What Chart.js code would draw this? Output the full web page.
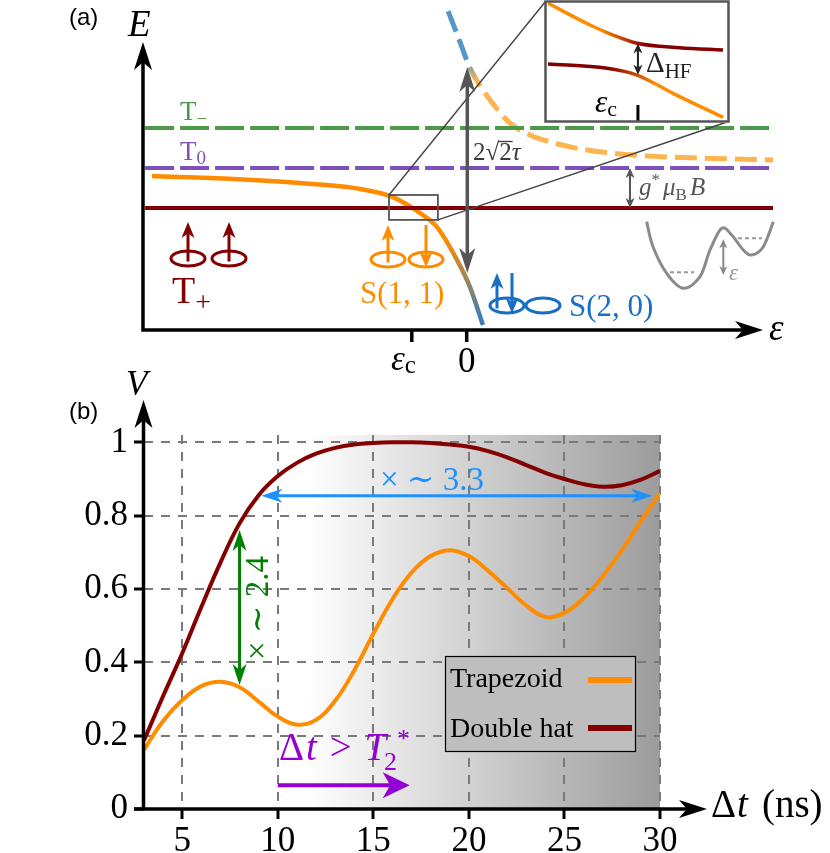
<!DOCTYPE html>
<html>
<head>
<meta charset="utf-8">
<title>Energy levels and visibility</title>
<script src="https://cdn.jsdelivr.net/npm/chart.js@4.4.1/dist/chart.umd.min.js"></script>
<style>
  body { margin: 0; background: #fff; }
  #fig { position: relative; width: 830px; height: 853px; }
  #fig canvas { position: absolute; }
</style>
</head>
<body>
<div id="fig">
  <canvas id="levels" width="830" height="380" style="left:0;top:0"></canvas>
  <canvas id="inset" width="186" height="124" style="left:544px;top:0"></canvas>
  <canvas id="visibility" width="830" height="493" style="left:0;top:360px"></canvas>
</div>
<script>
// ---------- panel (a): energy levels vs detuning (arbitrary units) ----------
var levelEps = [-10.72, 10.21];
var tMinusE = [6.73, 6.73];
var tZeroE = [5.4, 5.4];
var tPlusE = [4.07, 4.07];
var lowerEps = [-10.49, -7.78, -5.56, -3.72, -2.46, -1.56, -0.99, -0.32, 0.11, 0.54];
var lowerE = [5.13, 5.03, 4.90, 4.73, 4.43, 3.90, 3.43, 2.33, 1.43, 0.17];
var upperEps = [-0.62, -0.26, 0.11, 0.61, 1.01, 1.44, 2.11, 2.78, 3.61, 4.51, 6.04, 7.78, 10.21];
var upperE = [10.63, 9.70, 8.73, 7.90, 7.37, 6.90, 6.50, 6.27, 6.07, 5.93, 5.80, 5.73, 5.67];
var epsC = -1.83;

// inset: zoom on the anticrossing around eps_c
var insetUpperX = [-0.957, -0.505, -0.258, 0, 0.462, 0.925];
var insetUpperY = [0.947, 0.597, 0.435, 0.302, 0.231, 0.194];
var insetLowerX = [-0.957, -0.323, 0, 0.387, 0.925];
var insetLowerY = [-0.032, -0.102, -0.21, -0.505, -0.892];

// ---------- panel (b): visibility vs pulse separation ----------
var dt = [3, 4, 5, 6, 7, 8, 9, 10, 11, 12, 13, 14, 15, 16, 17, 18, 19, 20, 21, 22, 23, 24, 25, 26, 27, 28, 29, 30];
var trapezoid = [0.162, 0.24, 0.297, 0.335, 0.347, 0.332, 0.293, 0.252, 0.23, 0.243, 0.295, 0.378, 0.478, 0.572,
                 0.645, 0.69, 0.706, 0.69, 0.65, 0.603, 0.555, 0.524, 0.535, 0.575, 0.635, 0.706, 0.785, 0.861];
var doubleHat = [0.187, 0.308, 0.425, 0.551, 0.672, 0.779, 0.856, 0.908, 0.944, 0.969, 0.985, 0.994, 0.998, 1.0,
                 1.0, 0.998, 0.994, 0.988, 0.976, 0.959, 0.938, 0.917, 0.9, 0.886, 0.879, 0.883, 0.898, 0.922];
var dtTicks = [5, 10, 15, 20, 25, 30];
var vTicks = [0, 0.2, 0.4, 0.6, 0.8, 1];

var SERIF = '"Liberation Serif", "DejaVu Serif", serif';
var SANS = '"Liberation Sans", "DejaVu Sans", sans-serif';
var ORANGE = '#ff8c00', DARKRED = '#840000', GREEN = '#4c9a48', PURPLE = '#7d51b8';
var STEEL = '#3d7db5', BLUEDASH = '#5896c8', LIGHTORANGE = '#ffb450', S20BLUE = '#176ec6';

function font(size, style) { return (style || '') + ' ' + size + 'px ' + SERIF; }
function pts(xs, ys) { return xs.map(function (v, i) { return { x: v, y: ys[i] }; }); }

function fade(axis, from, to, c1, c2) {
  return function (context) {
    var chart = context.chart;
    if (!chart.chartArea) return c1;
    var s = chart.scales[axis];
    var p1 = s.getPixelForValue(from), p2 = s.getPixelForValue(to);
    var g = axis === 'x' ? chart.ctx.createLinearGradient(p1, 0, p2, 0)
                         : chart.ctx.createLinearGradient(0, p1, 0, p2);
    g.addColorStop(0, c1);
    g.addColorStop(1, c2);
    return g;
  };
}

function arrowHead(ctx, x, y, ang, len, half, color) {
  ctx.save();
  ctx.translate(x, y);
  ctx.rotate(ang);
  ctx.beginPath();
  ctx.moveTo(0, 0);
  ctx.lineTo(-len, -half);
  ctx.lineTo(-len * 0.72, 0);
  ctx.lineTo(-len, half);
  ctx.closePath();
  ctx.fillStyle = color;
  ctx.fill();
  ctx.restore();
}

function arrow(ctx, x1, y1, x2, y2, o) {
  var ang = Math.atan2(y2 - y1, x2 - x1), c = Math.cos(ang), s = Math.sin(ang), k = o.len * 0.7;
  ctx.save();
  ctx.strokeStyle = o.color;
  ctx.lineWidth = o.width;
  ctx.setLineDash([]);
  ctx.beginPath();
  ctx.moveTo(o.both ? x1 + c * k : x1, o.both ? y1 + s * k : y1);
  ctx.lineTo(x2 - c * k, y2 - s * k);
  ctx.stroke();
  ctx.restore();
  arrowHead(ctx, x2, y2, ang, o.len, o.half, o.color);
  if (o.both) arrowHead(ctx, x1, y1, ang + Math.PI, o.len, o.half, o.color);
}

function runs(ctx, x, y, parts, color) {
  ctx.save();
  ctx.fillStyle = color;
  ctx.textAlign = 'left';
  ctx.textBaseline = 'alphabetic';
  parts.forEach(function (p) {
    ctx.font = p.f;
    x += p.dx || 0;
    ctx.fillText(p.t, x, y + (p.dy || 0));
    x += ctx.measureText(p.t).width;
  });
  ctx.restore();
  return x;
}

function orbital(ctx, cx, cy, color, spins) {
  ctx.save();
  ctx.strokeStyle = color;
  ctx.lineWidth = 3;
  ctx.beginPath();
  ctx.ellipse(cx, cy, 17, 7.5, 0, 0, 2 * Math.PI);
  ctx.stroke();
  ctx.restore();
  spins.forEach(function (s) {
    var o = { color: color, width: 3, len: 16, half: 6.5 };
    if (s.up) arrow(ctx, cx + s.dx, cy + 3, cx + s.dx, cy - s.h, o);
    else arrow(ctx, cx + s.dx, cy - s.h, cx + s.dx, cy + 8, o);
  });
}

function smooth(ctx, p) {
  ctx.moveTo(p[0][0], p[0][1]);
  for (var i = 0; i < p.length - 1; i++) {
    var p0 = p[i - 1] || p[i], p1 = p[i], p2 = p[i + 1], p3 = p[i + 2] || p2;
    ctx.bezierCurveTo(p1[0] + (p2[0] - p0[0]) / 6, p1[1] + (p2[1] - p0[1]) / 6,
                      p2[0] - (p3[0] - p1[0]) / 6, p2[1] - (p3[1] - p1[1]) / 6, p2[0], p2[1]);
  }
}

// ---------- panel (a) decorations ----------
var levelDecor = {
  id: 'levelDecor',
  afterDatasetsDraw: function (chart) {
    var ctx = chart.ctx, a = chart.chartArea, xs = chart.scales.x, ys = chart.scales.y;
    var px = function (v) { return xs.getPixelForValue(v); };
    var py = function (v) { return ys.getPixelForValue(v); };

    // small box at eps_c and lines to the inset
    var bx1 = px(-2.59), bx2 = px(-0.96), by1 = py(4.5), by2 = py(3.67);
    ctx.save();
    ctx.strokeStyle = '#555';
    ctx.lineWidth = 1.8;
    ctx.strokeRect(bx1, by1, bx2 - bx1, by2 - by1);
    ctx.strokeStyle = '#444';
    ctx.lineWidth = 1.4;
    ctx.beginPath();
    ctx.moveTo(bx1, by1); ctx.lineTo(545.5, 1.5);
    ctx.moveTo(bx2, by2); ctx.lineTo(728.5, 121.5);
    ctx.stroke();
    ctx.restore();

    // 2 sqrt(2) tau gap arrow
    arrow(ctx, px(0.02), py(1.9), px(0.02), py(8.77), { color: '#555', width: 3.5, len: 25, half: 8, both: true });
    var x0 = runs(ctx, 473, 160, [{ t: '2', f: font(25) }, { t: '√', f: font(25) }], '#3a3a3a');
    var x1 = runs(ctx, x0, 160, [{ t: '2', f: font(25) }], '#3a3a3a');
    ctx.save();
    ctx.strokeStyle = '#3a3a3a'; ctx.lineWidth = 1.3;
    ctx.beginPath(); ctx.moveTo(x0 - 1, 141.5); ctx.lineTo(x1 + 1, 141.5); ctx.stroke();
    ctx.restore();
    runs(ctx, x1, 160, [{ t: 'τ', f: font(25, 'italic') }], '#3a3a3a');

    // Zeeman splitting arrow
    arrow(ctx, 630, py(tZeroE[0]), 630, py(tPlusE[0]), { color: '#555', width: 2, len: 10, half: 4.5, both: true });
    runs(ctx, 639, 195, [
      { t: 'g', f: font(25, 'italic') }, { t: '*', f: font(17), dy: -10 },
      { t: 'μ', f: font(25, 'italic'), dx: 3 }, { t: 'B', f: font(17), dy: 5 },
      { t: 'B', f: font(25, 'italic'), dx: 3 }], '#555');

    // level labels
    runs(ctx, 180, 120, [{ t: 'T', f: font(27) }, { t: '−', f: font(19), dy: 5 }], GREEN);
    runs(ctx, 180, 160, [{ t: 'T', f: font(27) }, { t: '0', f: font(19), dy: 4 }], PURPLE);
    runs(ctx, 172, 303, [{ t: 'T', f: font(38) }, { t: '+', f: font(28), dy: 8 }], DARKRED);
    runs(ctx, 360, 303, [{ t: 'S(1, 1)', f: font(31) }], ORANGE);
    runs(ctx, 569, 316, [{ t: 'S(2, 0)', f: font(31) }], S20BLUE);

    // charge / spin configurations
    orbital(ctx, 188, 258.5, DARKRED, [{ dx: 0, up: true, h: 36.5 }]);
    orbital(ctx, 229, 258.5, DARKRED, [{ dx: 0, up: true, h: 36.5 }]);
    orbital(ctx, 388, 259.5, ORANGE, [{ dx: 0, up: true, h: 34.5 }]);
    orbital(ctx, 426, 259.5, ORANGE, [{ dx: 0, up: false, h: 34.5 }]);
    orbital(ctx, 507, 305.5, S20BLUE, [{ dx: -10, up: true, h: 32.5 }, { dx: 5, up: false, h: 32.5 }]);
    orbital(ctx, 543, 305.5, S20BLUE, []);

    // double well sketch
    ctx.save();
    ctx.strokeStyle = '#8a8a8a';
    ctx.lineWidth = 3;
    ctx.beginPath();
    smooth(ctx, [[646.7, 221.7], [653, 246.7], [666.7, 273.3], [683.3, 288.3], [700, 276.7], [710, 250],
                 [721.7, 228.3], [731.7, 235], [743.3, 250], [751.7, 255], [763.3, 246.7], [773.3, 221.7]]);
    ctx.stroke();
    ctx.strokeStyle = '#999';
    ctx.lineWidth = 2;
    ctx.setLineDash([4, 3]);
    ctx.beginPath();
    ctx.moveTo(670, 272.3); ctx.lineTo(694, 272.3);
    ctx.moveTo(738, 238.3); ctx.lineTo(762, 238.3);
    ctx.stroke();
    ctx.restore();
    arrow(ctx, 723.3, 239.3, 723.3, 275, { color: '#888', width: 2, len: 9, half: 4, both: true });
    runs(ctx, 729, 280, [{ t: 'ε', f: font(23, 'italic') }], '#999');

    // axes with arrow heads
    ctx.save();
    ctx.strokeStyle = '#000';
    ctx.lineWidth = 3.5;
    ctx.beginPath();
    ctx.moveTo(a.left, a.bottom + 1.75); ctx.lineTo(a.left, 62);
    ctx.moveTo(a.left - 1.75, a.bottom); ctx.lineTo(745, a.bottom);
    ctx.moveTo(px(epsC), a.bottom); ctx.lineTo(px(epsC), a.bottom + 12);
    ctx.moveTo(px(0), a.bottom); ctx.lineTo(px(0), a.bottom + 12);
    ctx.stroke();
    ctx.restore();
    arrowHead(ctx, a.left, 42, -Math.PI / 2, 28, 9, '#000');
    arrowHead(ctx, 763, a.bottom, 0, 28, 9, '#000');

    runs(ctx, 128, 36, [{ t: 'E', f: font(37, 'italic') }], '#000');
    runs(ctx, 769, 340, [{ t: 'ε', f: font(37, 'italic') }], '#000');
    runs(ctx, 391, 370, [{ t: 'ε', f: font(35, 'italic') }, { t: 'c', f: font(25), dy: 3 }], '#000');
    ctx.save();
    ctx.font = font(35); ctx.fillStyle = '#000'; ctx.textAlign = 'center';
    ctx.fillText('0', px(0), 372);
    ctx.font = '24px ' + SANS; ctx.textAlign = 'left';
    ctx.fillText('(a)', 69, 25);
    ctx.restore();
  }
};

new Chart('levels', {
  type: 'scatter',
  data: {
    datasets: [
      { data: pts(levelEps, tMinusE), borderColor: GREEN, borderDash: [29, 6] },
      { data: pts(levelEps, tZeroE), borderColor: PURPLE, borderDash: [29, 6] },
      { data: pts(levelEps, tPlusE), borderColor: DARKRED },
      { data: pts(lowerEps, lowerE), borderColor: fade('y', 3.0, 0.4, ORANGE, STEEL), borderWidth: 4.5,
        cubicInterpolationMode: 'monotone' },
      { data: pts(upperEps, upperE), borderColor: fade('y', 9.0, 8.3, BLUEDASH, LIGHTORANGE), borderWidth: 5,
        borderDash: [22, 8], cubicInterpolationMode: 'monotone' }
    ]
  },
  options: {
    responsive: false,
    animation: false,
    events: [],
    showLine: true,
    elements: { point: { radius: 0 }, line: { borderWidth: 4, fill: false } },
    layout: { padding: { left: 143, right: 55, top: 0, bottom: 50 } },
    scales: {
      x: { type: 'linear', display: false, min: -10.79, max: 10.277 },
      y: { type: 'linear', display: false, min: 0, max: 11 }
    },
    plugins: { legend: { display: false }, tooltip: { enabled: false } }
  },
  plugins: [levelDecor]
});

// ---------- inset ----------
var insetFrame = {
  id: 'insetFrame',
  beforeDraw: function (chart) {
    var ctx = chart.ctx;
    ctx.save(); ctx.fillStyle = '#fff'; ctx.fillRect(1, 1, 184, 122); ctx.restore();
  },
  afterDraw: function (chart) {
    var ctx = chart.ctx, xs = chart.scales.x, ys = chart.scales.y;
    var ax = xs.getPixelForValue(0.01);
    arrow(ctx, ax, ys.getPixelForValue(-0.205), ax, ys.getPixelForValue(0.3),
          { color: '#222', width: 2, len: 10, half: 4.5, both: true });
    runs(ctx, 102, 72, [{ t: 'Δ', f: font(29) }, { t: 'HF', f: font(21), dy: 6 }], '#222');
    runs(ctx, 51, 112, [{ t: 'ε', f: font(31, 'italic') }, { t: 'c', f: font(22), dy: 4 }], '#000');
    ctx.save();
    ctx.strokeStyle = '#000'; ctx.lineWidth = 3;
    ctx.beginPath(); ctx.moveTo(ax, 105); ctx.lineTo(ax, 121); ctx.stroke();
    ctx.strokeStyle = '#555'; ctx.lineWidth = 2.5;
    ctx.strokeRect(1.5, 1.5, 183, 120);
    ctx.restore();
  }
};

new Chart('inset', {
  type: 'scatter',
  data: {
    datasets: [
      { data: pts(insetUpperX, insetUpperY), borderColor: fade('x', -0.4, 0.1, ORANGE, DARKRED) },
      { data: pts(insetLowerX, insetLowerY), borderColor: fade('x', -0.3, 0.2, DARKRED, ORANGE) }
    ]
  },
  options: {
    responsive: false,
    animation: false,
    events: [],
    showLine: true,
    elements: { point: { radius: 0 }, line: { borderWidth: 3.5, cubicInterpolationMode: 'monotone' } },
    layout: { padding: 0 },
    scales: {
      x: { type: 'linear', display: false, min: -1, max: 1 },
      y: { type: 'linear', display: false, min: -1, max: 1 }
    },
    plugins: { legend: { display: false }, tooltip: { enabled: false } }
  },
  plugins: [insetFrame]
});

// ---------- panel (b) decorations (canvas starts at page y = 360) ----------
var visDecor = {
  id: 'visDecor',
  beforeDraw: function (chart) {
    var ctx = chart.ctx, a = chart.chartArea, xs = chart.scales.x;
    var g = ctx.createLinearGradient(xs.getPixelForValue(11.5), 0, xs.getPixelForValue(30), 0);
    g.addColorStop(0, '#ffffff');
    g.addColorStop(1, '#9c9c9c');
    ctx.save();
    ctx.fillStyle = g;
    ctx.fillRect(a.left, a.top, a.right - a.left, a.bottom - a.top);
    ctx.restore();
  },
  afterDraw: function (chart) {
    var ctx = chart.ctx, a = chart.chartArea, xs = chart.scales.x, ys = chart.scales.y;
    var px = function (v) { return xs.getPixelForValue(v); };
    var py = function (v) { return ys.getPixelForValue(v); };

    // ratio arrows
    arrow(ctx, px(8), py(0.338), px(8), py(0.761), { color: '#008000', width: 3, len: 21, half: 7, both: true });
    arrow(ctx, px(9.14), py(0.854), px(29.6), py(0.854), { color: '#1e90ff', width: 3, len: 21, half: 7, both: true });
    arrow(ctx, px(10), py(0.065), px(16.9), py(0.065), { color: '#9400d3', width: 4, len: 27, half: 13 });

    runs(ctx, 380, 130, [{ t: '× ∼ 3.3', f: font(33) }], '#1e90ff');
    ctx.save();
    ctx.translate(268, 300);
    ctx.rotate(-Math.PI / 2);
    runs(ctx, 0, 0, [{ t: '× ∼ 2.4', f: font(33) }], '#008000');
    ctx.restore();
    runs(ctx, 279, 400, [
      { t: 'Δ', f: font(39) }, { t: 't', f: font(39, 'italic'), dx: 2 }, { t: ' > ', f: font(39), dx: 3 },
      { t: 'T', f: font(39, 'italic'), dx: 3 }, { t: '2', f: font(26), dy: 10, dx: -2 }, { t: '*', f: font(26), dy: -13, dx: 0 }
    ], '#9400d3');

    // legend
    ctx.save();
    ctx.fillStyle = '#bebebe';
    ctx.fillRect(445, 296, 191, 96);
    ctx.strokeStyle = '#000';
    ctx.lineWidth = 1.2;
    ctx.strokeRect(445.5, 296.5, 190, 95);
    var ds = chart.data.datasets;
    ctx.font = font(28);
    ctx.fillStyle = '#000';
    ctx.fillText(ds[0].label, 450, 327);
    ctx.fillText(ds[1].label, 450, 377);
    ctx.lineWidth = 6;
    ctx.strokeStyle = ds[0].borderColor;
    ctx.beginPath(); ctx.moveTo(588, 320); ctx.lineTo(632, 320); ctx.stroke();
    ctx.strokeStyle = ds[1].borderColor;
    ctx.beginPath(); ctx.moveTo(588, 368); ctx.lineTo(632, 368); ctx.stroke();
    ctx.restore();

    // axes with arrow heads
    ctx.save();
    ctx.strokeStyle = '#000';
    ctx.lineWidth = 3.5;
    ctx.beginPath();
    ctx.moveTo(a.left - 0.5, a.bottom + 1.75); ctx.lineTo(a.left - 0.5, 60);
    ctx.moveTo(a.left - 10, a.bottom); ctx.lineTo(688, a.bottom);
    ctx.stroke();
    ctx.restore();
    arrowHead(ctx, a.left - 0.5, 40, -Math.PI / 2, 28, 9, '#000');
    arrowHead(ctx, 707, a.bottom, 0, 28, 9, '#000');

    runs(ctx, 126, 35, [{ t: 'V', f: font(35, 'italic') }], '#000');
    runs(ctx, 711, 457, [{ t: 'Δ', f: font(39) }, { t: 't', f: font(39, 'italic'), dx: 1 },
                         { t: '(ns)', f: font(39), dx: 14 }], '#000');
    ctx.save();
    ctx.font = '24px ' + SANS; ctx.fillStyle = '#000';
    ctx.fillText('(b)', 69, 59);
    ctx.restore();
  }
};

function tickText(v) { return String(Math.round(v * 10) / 10); }

new Chart('visibility', {
  type: 'line',
  data: {
    datasets: [
      { label: 'Trapezoid', data: pts(dt, trapezoid), borderColor: ORANGE },
      { label: 'Double hat', data: pts(dt, doubleHat), borderColor: DARKRED }
    ]
  },
  options: {
    responsive: false,
    animation: false,
    events: [],
    elements: { point: { radius: 0 }, line: { borderWidth: 4, tension: 0.4, fill: false } },
    layout: { padding: { left: 0, right: 170, top: 75, bottom: 0 } },
    scales: {
      x: {
        type: 'linear', min: 3, max: 30,
        afterBuildTicks: function (s) { s.ticks = dtTicks.map(function (v) { return { value: v }; }); },
        afterFit: function (s) { s.height = 44; },
        ticks: { font: { family: SERIF, size: 35 }, color: '#000', padding: 2, maxRotation: 0, autoSkip: false,
                 callback: tickText },
        grid: { color: '#7a7a7a', lineWidth: 2, tickColor: '#000', tickWidth: 3, tickLength: 10, tickBorderDash: [] },
        border: { display: false, dash: [9, 8] }
      },
      y: {
        type: 'linear', min: 0, max: 1.02,
        afterBuildTicks: function (s) { s.ticks = vTicks.map(function (v) { return { value: v }; }); },
        afterFit: function (s) { s.width = 144; },
        ticks: { font: { family: SERIF, size: 35 }, color: '#000', padding: 6, autoSkip: false, callback: tickText },
        grid: { color: '#7a7a7a', lineWidth: 2, tickColor: '#000', tickWidth: 3, tickLength: 10, tickBorderDash: [] },
        border: { display: false, dash: [9, 8] }
      }
    },
    plugins: { legend: { display: false }, tooltip: { enabled: false } }
  },
  plugins: [visDecor]
});
</script>
</body>
</html>
